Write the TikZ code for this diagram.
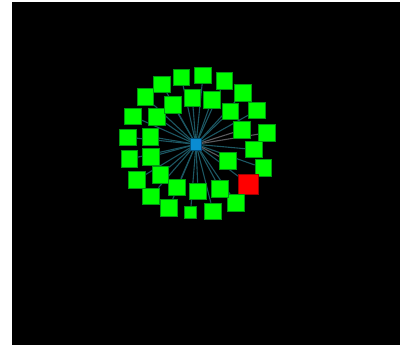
\documentclass[tikz,border=0pt]{standalone}
\usepackage{tikz}
\usetikzlibrary{backgrounds}
\definecolor{leafgreen}{HTML}{00FF00}
\definecolor{leafedge}{HTML}{009A10}
\definecolor{hubblue}{HTML}{0A8CD2}
\definecolor{hubedge}{HTML}{05507A}
\definecolor{alarmred}{HTML}{FF0000}
\definecolor{alarmedge}{HTML}{A00000}
\definecolor{spoketeal}{HTML}{1C5662}
\definecolor{spokegray}{HTML}{5A5A5E}
\tikzset{
  % knoten
  leaf/.style={rectangle,draw=leafedge,fill=leafgreen,line width=0.8pt,
               inner sep=0pt,minimum size=16.5pt},
  leafs/.style={leaf,minimum size=12pt},
  alarm/.style={rectangle,draw=alarmedge,fill=alarmred,line width=0.8pt,
                inner sep=0pt,minimum size=20pt},
  hub/.style={rectangle,draw=hubedge,fill=hubblue,line width=0.6pt,
              inner sep=0pt,minimum width=10.5pt,minimum height=11.5pt},
  % kanten
  spoke/.style={draw=spoketeal,line width=1.1pt},
  spokeg/.style={draw=spokegray,line width=1.1pt},
}
\begin{document}
\begin{tikzpicture}[x=1pt,y=-1pt]
  \useasboundingbox (0,0) rectangle (400,345);
  \begin{scope}[on background layer]
    \fill[white] (0,0) rectangle (400,345);
    \fill[black] (12,2) rectangle (400,345);
  \end{scope}
  \node[hub] (hub) at (196,144.3) {};
  % outer ring
  \node[leaf] (o1) at (181.3,77.3) {};
  \node[leaf] (o2) at (203,75.5) {};
  \node[leaf] (o3) at (224.5,81) {};
  \node[leaf] (o4) at (243,93) {};
  \node[leaf] (o5) at (257,110.3) {};
  \node[leaf] (o6) at (266.7,132.8) {};
  \node[leaf] (o7) at (263.3,168) {};
  \node[alarm] (o8) at (248.3,184) {};
  \node[leaf] (o9) at (236,203) {};
  \node[leaf] (o10) at (213,211.3) {};
  \node[leafs] (o11) at (190.5,212.7) {};
  \node[leaf] (o12) at (169,208) {};
  \node[leaf] (o13) at (151,196.3) {};
  \node[leaf] (o14) at (137,179.7) {};
  \node[leaf] (o15) at (129.3,159) {};
  \node[leaf] (o16) at (128,137.3) {};
  \node[leaf] (o17) at (133,116.3) {};
  \node[leaf] (o18) at (145.3,97) {};
  \node[leaf] (o19) at (162,84.3) {};
  % inner ring
  \node[leaf] (i1) at (192.3,97.7) {};
  \node[leaf] (i2) at (212,99.7) {};
  \node[leaf] (i3) at (230.3,111.3) {};
  \node[leaf] (i4) at (242,129.8) {};
  \node[leaf] (i5) at (253.8,149.5) {};
  \node[leaf] (i6) at (228,161) {};
  \node[leaf] (i7) at (220,188.8) {};
  \node[leaf] (i8) at (198,191.3) {};
  \node[leaf] (i9) at (177,187.3) {};
  \node[leaf] (i10) at (160.5,174.7) {};
  \node[leaf] (i11) at (151,156.7) {};
  \node[leaf] (i12) at (150.3,136.7) {};
  \node[leaf] (i13) at (156.8,117) {};
  \node[leaf] (i14) at (172.8,104.7) {};
  \begin{scope}[on background layer]
    \foreach \n in {o1,o2,o3,o4,o5,o7,o8,o9,o10,o11,o12,o13,o14,o15,o16,o17,o18,o19,
                    i1,i2,i3,i5,i7,i8,i9,i10,i11,i12,i13,i14}
      \draw[spoke] (hub) -- (\n);
    \draw[spokeg] (hub) -- (o6);
    \draw[spokeg] (hub) -- (i4);
    \draw[spokeg] (hub) -- (i6);
  \end{scope}
\end{tikzpicture}
\end{document}
